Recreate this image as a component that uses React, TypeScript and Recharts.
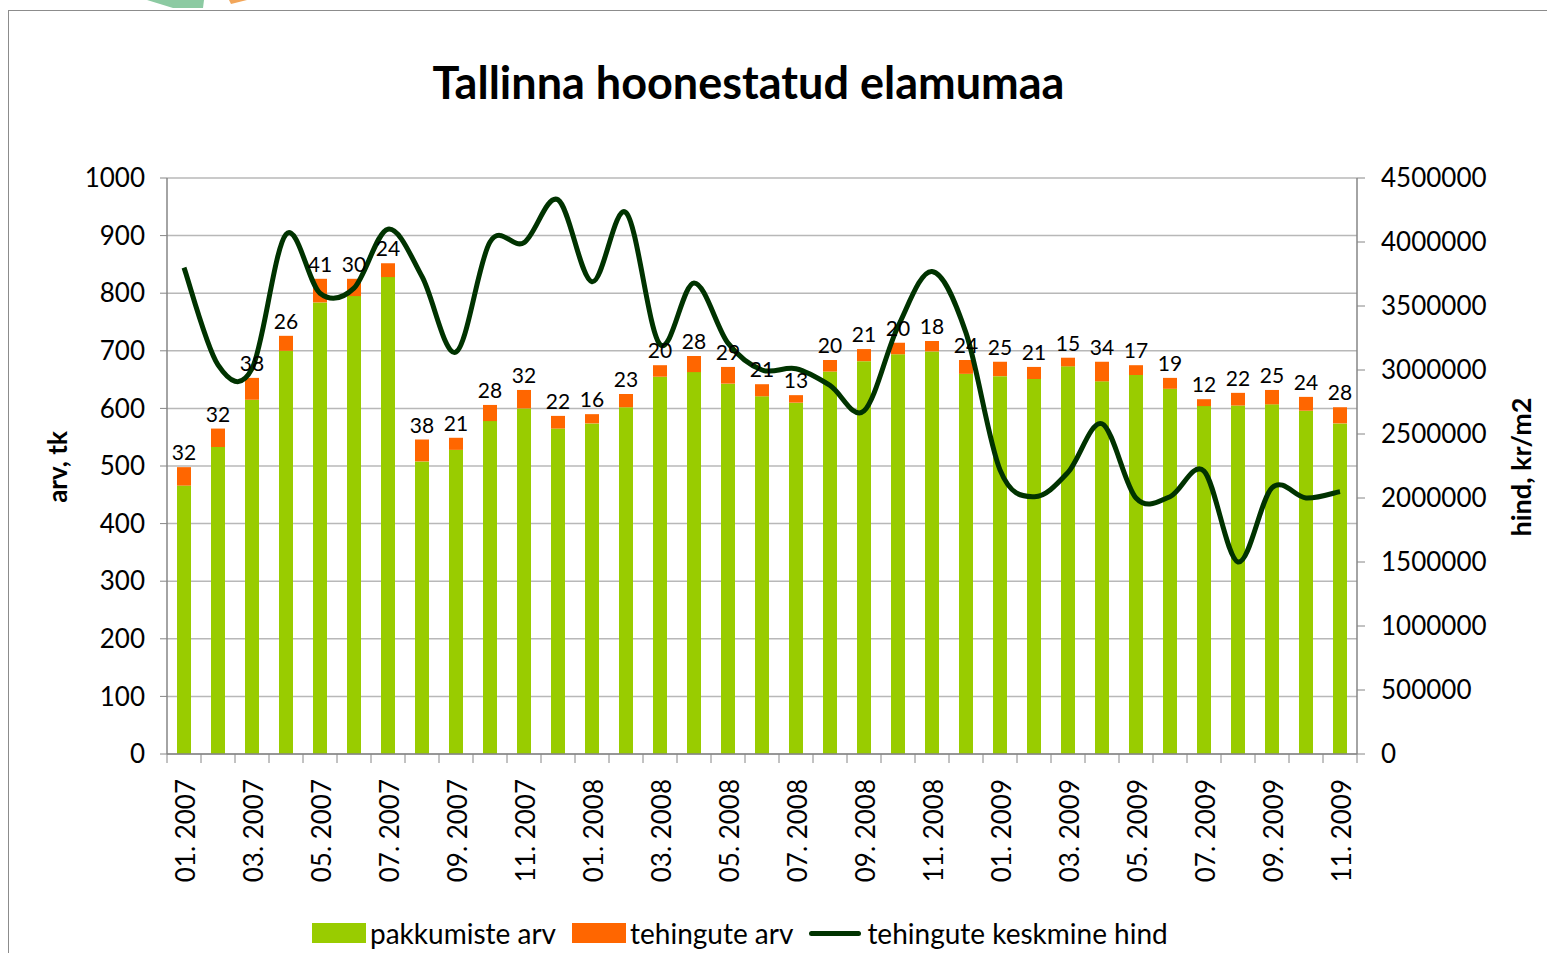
import React from "react"
import { Bar, CartesianGrid, ComposedChart, LabelList, Line, XAxis, YAxis } from "recharts"

// kuud 01.2007 - 11.2009
const months = [
  "01. 2007", "02. 2007", "03. 2007", "04. 2007", "05. 2007", "06. 2007", "07. 2007", "08. 2007", "09. 2007", "10. 2007", "11. 2007", "12. 2007",
  "01. 2008", "02. 2008", "03. 2008", "04. 2008", "05. 2008", "06. 2008", "07. 2008", "08. 2008", "09. 2008", "10. 2008", "11. 2008", "12. 2008",
  "01. 2009", "02. 2009", "03. 2009", "04. 2009", "05. 2009", "06. 2009", "07. 2009", "08. 2009", "09. 2009", "10. 2009", "11. 2009",
]

const pakkumisteArv = [
  466, 533, 615, 700, 784, 795, 828, 508, 528, 578, 600, 565,
  574, 602, 655, 663, 643, 621, 610, 664, 682, 694, 699, 660,
  656, 651, 673, 647, 658, 634, 604, 605, 607, 596, 574,
]

const tehinguteArv = [
  32, 32, 38, 26, 41, 30, 24, 38, 21, 28, 32, 22,
  16, 23, 20, 28, 29, 21, 13, 20, 21, 20, 18, 24,
  25, 21, 15, 34, 17, 19, 12, 22, 25, 24, 28,
]

const keskmineHind = [
  3800000, 3040000, 3010000, 4060000, 3600000, 3640000, 4100000, 3730000, 3140000, 4000000, 3995000, 4330000,
  3690000, 4230000, 3200000, 3680000, 3210000, 3000000, 3010000, 2880000, 2680000, 3340000, 3770000, 3290000,
  2220000, 2010000, 2200000, 2580000, 2000000, 2010000, 2210000, 1500000, 2080000, 2000000, 2050000,
]

const leftTicks = [0, 100, 200, 300, 400, 500, 600, 700, 800, 900, 1000]
const rightTicks = [0, 500000, 1000000, 1500000, 2000000, 2500000, 3000000, 3500000, 4000000, 4500000]

const data = months.map((month, i) => ({
  month,
  pakkumised: pakkumisteArv[i],
  tehingud: tehinguteArv[i],
  hind: keskmineHind[i],
}))

const FONT = "Lato, 'Open Sans', sans-serif"
const GREEN = "#99CC00"
const ORANGE = "#FF6600"
const DARK = "#003300"
const AXIS = "#868686"

// Excel-laadne silutud joon (Catmull-Rom -> bezier)
const excelSmooth = (context: any) => {
  let pts: number[][] = []
  return {
    areaStart() {},
    areaEnd() {},
    lineStart() { pts = [] },
    lineEnd() {
      if (!pts.length) return
      context.moveTo(pts[0][0], pts[0][1])
      for (let i = 0; i < pts.length - 1; i++) {
        const p0 = pts[Math.max(i - 1, 0)]
        const p1 = pts[i]
        const p2 = pts[i + 1]
        const p3 = pts[Math.min(i + 2, pts.length - 1)]
        context.bezierCurveTo(
          p1[0] + (p2[0] - p0[0]) / 6, p1[1] + (p2[1] - p0[1]) / 6,
          p2[0] - (p3[0] - p1[0]) / 6, p2[1] - (p3[1] - p1[1]) / 6,
          p2[0], p2[1]
        )
      }
    },
    point(x: number, y: number) { pts.push([+x, +y]) },
  }
}

const MonthTick = (props: any) => {
  const { x, y, payload } = props
  const half = payload?.offset || 17
  const idx = payload?.index ?? 0
  const ty = y + 25
  return (
    <g>
      <line x1={x - half} y1={y} x2={x - half} y2={y + 9} stroke={AXIS} />
      {idx === months.length - 1 && <line x1={x + half} y1={y} x2={x + half} y2={y + 9} stroke={AXIS} />}
      {idx % 2 === 0 && (
        <text
          x={x + 1}
          y={ty}
          transform={`rotate(-90, ${x + 1}, ${ty})`}
          textAnchor="end"
          dominantBaseline="central"
          fontSize={26}
          fontFamily={FONT}
          fill="#000"
        >
          {payload.value}
        </text>
      )}
    </g>
  )
}

export default function App() {
  return (
    <div style={{ position: "fixed", left: 0, top: 0, width: 1547, height: 953, background: "#fff", overflow: "hidden", fontFamily: FONT }}>
      {/* logo jupp ülaservas */}
      <svg style={{ position: "absolute", left: 0, top: 0 }} width={300} height={10}>
        <polygon points="147,0 204,0 203,8 173,8" fill="#8ccaa2" />
        <polygon points="229,0 247,0 231,4" fill="#f2a65a" />
      </svg>

      {/* raam */}
      <div style={{ position: "absolute", left: 8, top: 10, width: 1600, height: 1000, border: "1px solid #8c8c8c" }} />

      <div style={{ position: "absolute", left: 0, top: 55, width: 1497, textAlign: "center", fontSize: 45, fontWeight: 700, color: "#000" }}>
        Tallinna hoonestatud elamumaa
      </div>

      <div style={{ position: "absolute", left: 57, top: 467, transform: "translate(-50%, -50%) rotate(-90deg)", fontSize: 26, fontWeight: 700, whiteSpace: "nowrap" }}>
        arv, tk
      </div>
      <div style={{ position: "absolute", left: 1520, top: 467, transform: "translate(-50%, -50%) rotate(-90deg)", fontSize: 27, fontWeight: 700, whiteSpace: "nowrap" }}>
        hind, kr/m2
      </div>

      <div style={{ position: "absolute", left: 0, top: 0 }}>
        <ComposedChart width={1547} height={953} data={data} margin={{ top: 178, right: 0, bottom: 0, left: 0 }} barCategoryGap={0}>
          <CartesianGrid yAxisId="left" vertical={false} stroke="#b8b8b8" strokeWidth={1.5} />
          <XAxis
            dataKey="month"
            interval={0}
            height={199}
            tickLine={false}
            tickSize={0}
            tickMargin={0}
            axisLine={{ stroke: AXIS, strokeWidth: 1.5 }}
            tick={<MonthTick />}
          />
          <YAxis
            yAxisId="left"
            orientation="left"
            width={167}
            domain={[0, 1000]}
            ticks={leftTicks}
            interval={0}
            tickSize={7}
            tickMargin={15}
            axisLine={{ stroke: AXIS, strokeWidth: 1.5 }}
            tickLine={{ stroke: AXIS }}
            tick={{ fontSize: 26, fill: "#000", fontFamily: FONT }}
          />
          <YAxis
            yAxisId="right"
            orientation="right"
            width={190}
            domain={[0, 4500000]}
            ticks={rightTicks}
            interval={0}
            tickSize={8}
            tickMargin={16}
            axisLine={{ stroke: AXIS, strokeWidth: 1.5 }}
            tickLine={{ stroke: AXIS }}
            tick={{ fontSize: 26, fill: "#000", fontFamily: FONT }}
          />
          <Bar yAxisId="left" dataKey="pakkumised" stackId="a" fill={GREEN} barSize={14} isAnimationActive={false} />
          <Bar yAxisId="left" dataKey="tehingud" stackId="a" fill={ORANGE} barSize={14} isAnimationActive={false}>
            <LabelList dataKey="tehingud" position="top" offset={7} fontSize={21} fill="#000" fontFamily={FONT} />
          </Bar>
          <Line
            yAxisId="right"
            dataKey="hind"
            type={excelSmooth as any}
            stroke={DARK}
            strokeWidth={5}
            dot={false}
            activeDot={false}
            isAnimationActive={false}
          />
        </ComposedChart>
      </div>

      {/* legend */}
      <div style={{ position: "absolute", left: 312, top: 916, display: "flex", alignItems: "center", fontSize: 28, color: "#000", whiteSpace: "nowrap" }}>
        <span style={{ display: "inline-block", width: 54, height: 20, background: GREEN, marginRight: 4 }} />
        <span style={{ marginRight: 16 }}>pakkumiste arv</span>
        <span style={{ display: "inline-block", width: 54, height: 20, background: ORANGE, marginRight: 4 }} />
        <span style={{ marginRight: 16 }}>tehingute arv</span>
        <span style={{ display: "inline-block", width: 52, height: 5, borderRadius: 3, background: DARK, marginRight: 6 }} />
        <span>tehingute keskmine hind</span>
      </div>
    </div>
  )
}
